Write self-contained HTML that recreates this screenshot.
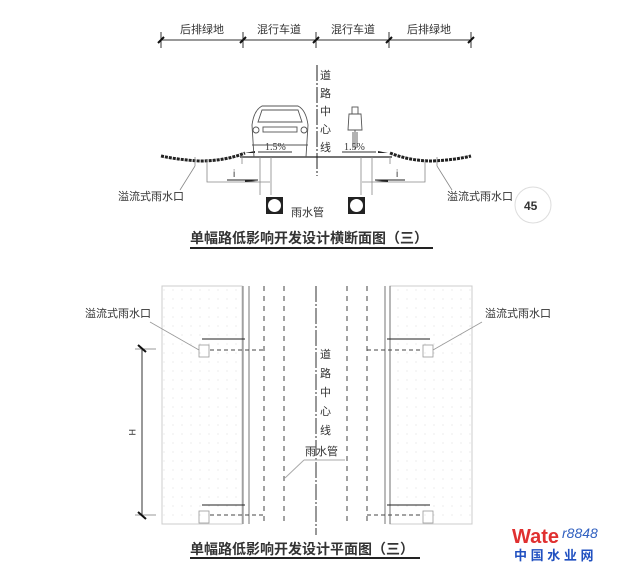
<!DOCTYPE html>
<html><head><meta charset="utf-8"><style>
html,body{margin:0;padding:0;background:#fff;}
svg{display:block;}
text{font-family:"Liberation Sans","Noto Sans CJK SC",sans-serif;fill:#333;}
</style></head><body>
<svg width="640" height="569" viewBox="0 0 640 569" xmlns="http://www.w3.org/2000/svg">
<defs>
<pattern id="dots" width="9" height="9" patternUnits="userSpaceOnUse">
<circle cx="2" cy="2" r="0.5" fill="#ccc"/>
</pattern>
</defs>
<!-- top dimension -->
<g stroke="#333" stroke-width="1">
<line x1="160" y1="40" x2="472" y2="40"/>
<line x1="161" y1="32" x2="161" y2="48"/>
<line x1="243" y1="32" x2="243" y2="48"/>
<line x1="316" y1="32" x2="316" y2="48"/>
<line x1="389" y1="32" x2="389" y2="48"/>
<line x1="471" y1="32" x2="471" y2="48"/>
</g>
<g stroke="#111" stroke-width="2">
<line x1="158" y1="43" x2="164" y2="37"/><line x1="240" y1="43" x2="246" y2="37"/>
<line x1="313" y1="43" x2="319" y2="37"/><line x1="386" y1="43" x2="392" y2="37"/>
<line x1="468" y1="43" x2="474" y2="37"/>
</g>
<g font-size="11">
<text x="180" y="33">后排绿地</text><text x="257" y="33">混行车道</text>
<text x="331" y="33">混行车道</text><text x="407" y="33">后排绿地</text>
</g>
<!-- centerline top -->
<line x1="317" y1="65" x2="317" y2="176" stroke="#444" stroke-width="1.2" stroke-dasharray="16,2,2,2"/>
<g font-size="11"><text x="320" y="79">道</text><text x="320" y="97">路</text><text x="320" y="115">中</text><text x="320" y="133">心</text><text x="320" y="151">线</text></g>
<!-- road -->
<line x1="240" y1="157" x2="392" y2="157" stroke="#222" stroke-width="1.2"/>
<path d="M161 156 Q180 160 200 161 Q225 161 245 153" fill="none" stroke="#222" stroke-width="3" stroke-dasharray="3,1"/>
<path d="M390 153 Q410 161 432 161 Q455 160 471 156" fill="none" stroke="#222" stroke-width="3" stroke-dasharray="3,1"/>
<!-- slope labels -->
<g font-size="10" font-family="Liberation Serif"><text x="265" y="150" style="font-family:'Liberation Serif'">1.5%</text><text x="344" y="150" style="font-family:'Liberation Serif'">1.5%</text></g>
<line x1="258" y1="152" x2="292" y2="152" stroke="#333"/><line x1="342" y1="152" x2="376" y2="152" stroke="#333"/>
<path d="M245 153 L255 151 L255 153Z M388 153 L378 151 L378 153Z" fill="#222"/>
<!-- car -->
<g fill="none" stroke="#555" stroke-width="0.9">
<path d="M254 157 L252 125 Q254 110 262 106 L298 106 Q306 110 308 125 L306 157"/>
<path d="M258 122 L262 110 L298 110 L302 122Z"/>
<rect x="263" y="127" width="34" height="5"/><circle cx="256" cy="130" r="3"/><circle cx="304" cy="130" r="3"/>
<line x1="252" y1="145" x2="308" y2="145"/>
</g>
<!-- cyclist -->
<g fill="none" stroke="#555" stroke-width="0.9">
<rect x="352" y="107" width="6" height="7"/><path d="M349 114 L361 114 L362 130 L348 130Z"/>
<line x1="355" y1="130" x2="355" y2="150"/><line x1="353" y1="132" x2="353" y2="148"/><line x1="357" y1="132" x2="357" y2="148"/>
</g>
<!-- inlets section -->
<g fill="none" stroke="#888" stroke-width="0.8">
<path d="M195 157 L195 166 M207 160 L207 182 L270 182 M242 157 L242 164"/>
<path d="M260 157 L260 195 M271 157 L271 195"/>
<path d="M437 157 L437 166 M425 160 L425 182 L362 182 M390 157 L390 164"/>
<path d="M372 157 L372 195 M361 157 L361 195"/>
<path d="M180 190 L195 166 M452 190 L437 166"/>
</g>
<line x1="227" y1="180" x2="258" y2="180" stroke="#222"/><path d="M245 180 L258 181 L245 182Z" fill="#222"/>
<line x1="375" y1="180" x2="405" y2="180" stroke="#222"/><path d="M388 180 L375 181 L388 182Z" fill="#222"/>
<text x="233" y="177" font-size="10">i</text><text x="396" y="177" font-size="10">i</text>
<!-- pipes -->
<rect x="266" y="197" width="17" height="17" fill="#222"/><circle cx="274.5" cy="205.5" r="6.5" fill="#fff"/>
<rect x="348" y="197" width="17" height="17" fill="#222"/><circle cx="356.5" cy="205.5" r="6.5" fill="#fff"/>
<text x="291" y="216" font-size="11">雨水管</text>
<text x="118" y="200" font-size="11">溢流式雨水口</text>
<text x="447" y="200" font-size="11">溢流式雨水口</text>
<circle cx="533" cy="205" r="18" fill="#fff" stroke="#ddd"/>
<text x="524" y="210" font-size="12" font-weight="bold">45</text>
<text x="190" y="243" font-size="14" font-weight="bold" fill="#222">单幅路低影响开发设计横断面图（三）</text>
<line x1="190" y1="248" x2="433" y2="248" stroke="#222" stroke-width="2"/>
<!-- plan -->
<rect x="162" y="286" width="80" height="238" fill="url(#dots)" stroke="#ccc"/>
<rect x="390" y="286" width="82" height="238" fill="url(#dots)" stroke="#ccc"/>
<g stroke="#666" stroke-width="0.9">
<line x1="243" y1="286" x2="243" y2="524"/><line x1="249" y1="286" x2="249" y2="524"/>
<line x1="385" y1="286" x2="385" y2="524"/><line x1="390" y1="286" x2="390" y2="524"/>
</g>
<g stroke="#444" stroke-width="1" stroke-dasharray="5,5">
<line x1="264" y1="286" x2="264" y2="524"/><line x1="284" y1="286" x2="284" y2="524"/>
<line x1="347" y1="286" x2="347" y2="524"/><line x1="367" y1="286" x2="367" y2="524"/>
</g>
<line x1="316" y1="286" x2="316" y2="535" stroke="#444" stroke-width="1.1" stroke-dasharray="16,2,2,2"/>
<g font-size="11"><text x="320" y="358">道</text><text x="320" y="377">路</text><text x="320" y="396">中</text><text x="320" y="415">心</text><text x="320" y="434">线</text></g>
<text x="305" y="455" font-size="11">雨水管</text>
<line x1="304" y1="460" x2="345" y2="460" stroke="#aaa"/><line x1="304" y1="460" x2="285" y2="478" stroke="#aaa"/>
<!-- plan inlets -->
<g fill="none" stroke="#999" stroke-width="0.8">
<rect x="199" y="345" width="10" height="12"/><rect x="199" y="511" width="10" height="12"/>
<rect x="423" y="345" width="10" height="12"/><rect x="423" y="511" width="10" height="12"/>
<path d="M199 350 L150 322 M433 350 L482 322"/>
</g>
<g stroke="#444" stroke-dasharray="4,3"><line x1="210" y1="350" x2="265" y2="350"/><line x1="210" y1="515" x2="265" y2="515"/>
<line x1="367" y1="350" x2="422" y2="350"/><line x1="367" y1="515" x2="422" y2="515"/></g>
<g stroke="#222"><line x1="202" y1="339" x2="245" y2="339"/><line x1="202" y1="505" x2="245" y2="505"/>
<line x1="387" y1="339" x2="430" y2="339"/><line x1="387" y1="505" x2="430" y2="505"/></g>
<text x="85" y="317" font-size="11">溢流式雨水口</text><text x="485" y="317" font-size="11">溢流式雨水口</text>
<line x1="142" y1="348" x2="142" y2="515" stroke="#333"/>
<line x1="135" y1="349" x2="156" y2="349" stroke="#999"/><line x1="135" y1="515" x2="156" y2="515" stroke="#999"/>
<path d="M138 345 L146 352 M138 512 L146 519" stroke="#111" stroke-width="2"/>
<text x="130" y="436" font-size="9" transform="rotate(90 133 432)">H</text>
<text x="190" y="554" font-size="14" font-weight="bold" fill="#222">单幅路低影响开发设计平面图（三）</text>
<line x1="190" y1="558" x2="420" y2="558" stroke="#222" stroke-width="2"/>
<!-- watermark -->
<text x="512" y="543" font-size="20" font-weight="bold" style="fill:#e03030">Wate</text>
<text x="562" y="538" font-size="14" font-style="italic" style="fill:#3060c0">r8848</text>
<text x="514" y="560" font-size="13" font-weight="bold" style="fill:#2050c0">中 国 水 业 网</text>
</svg>
</body></html>
